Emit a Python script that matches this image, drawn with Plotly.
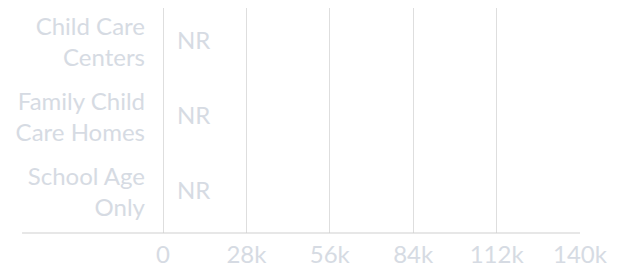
import plotly.graph_objects as go

categories = ["Child Care<br>Centers", "Family Child<br>Care Homes", "School Age<br>Only"]
values = [0, 0, 0]
labels = ["NR", "NR", "NR"]
tick_vals = [0, 28000, 56000, 84000, 112000, 140000]
tick_text = ["0", "28k", "56k", "84k", "112k", "140k"]

text_color = "#d6dbe3"
font = dict(family="Lato", size=24, color=text_color)

fig = go.Figure()
fig.add_trace(go.Bar(
    y=categories, x=values, orientation="h",
    marker=dict(color="#8fa8c8", line=dict(width=0)),
    hoverinfo="skip", showlegend=False,
))
for cat, v, lab in zip(categories, values, labels):
    fig.add_annotation(x=v, y=cat, text=lab, showarrow=False,
                       xanchor="left", xshift=12, yshift=6, font=font)

fig.add_shape(type="line", xref="paper", yref="paper", x0=-0.338, x1=1, y0=0, y1=0,
              line=dict(color="#cfcfcf", width=1), layer="above")

fig.update_layout(
    width=619, height=259,
    margin=dict(l=155, r=47, t=0, b=34, autoexpand=False),
    paper_bgcolor="white", plot_bgcolor="white",
    font=font,
    xaxis=dict(range=[0, 140000], tickvals=tick_vals, ticktext=tick_text,
               showgrid=True, gridcolor="#dedede", gridwidth=1,
               zeroline=True, zerolinecolor="#dedede", zerolinewidth=1,
               showline=False, ticks="", automargin=False, ticklabelstandoff=5,
               tickfont=font, fixedrange=True),
    yaxis=dict(autorange="reversed", showgrid=False, zeroline=False,
               ticks="", ticklabelstandoff=17, ticklabelshift=3, automargin=False,
               tickfont=font, fixedrange=True),
    bargap=0.3,
)
fig.write_html("out.html")
